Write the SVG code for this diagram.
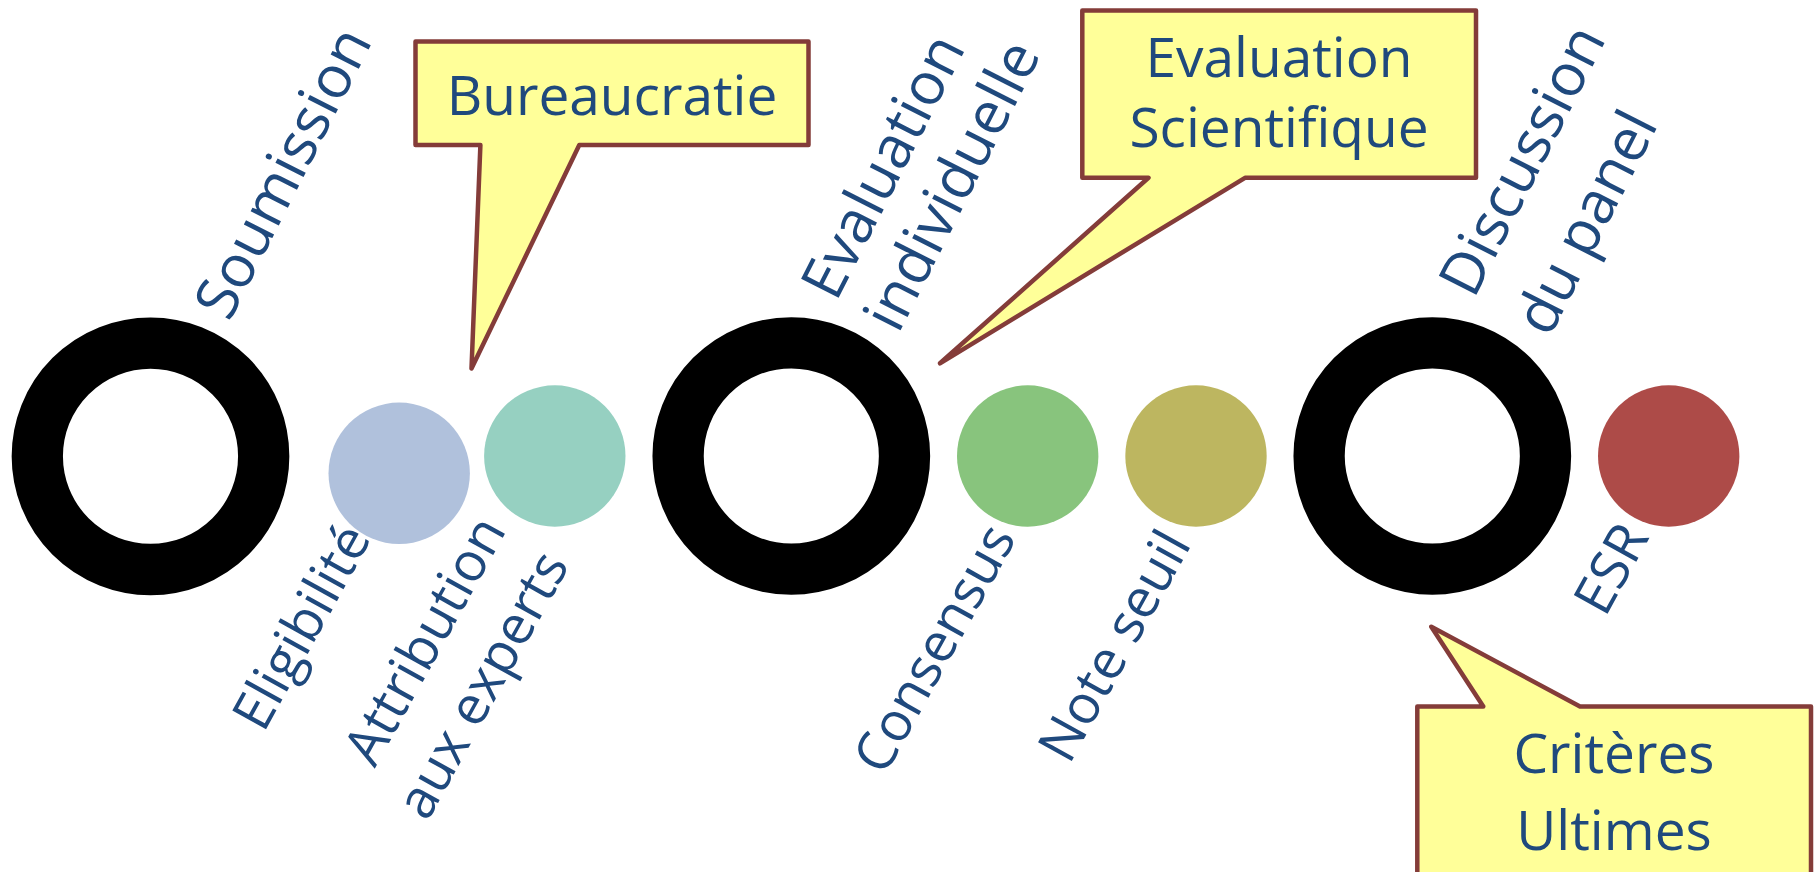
<svg xmlns="http://www.w3.org/2000/svg" width="1818" height="872" viewBox="0 0 1818 872">
<style>
.ring{fill:none;stroke:#000;stroke-width:51.3}
.lbl{font-family:"Open Sans","Noto Sans",sans-serif;font-size:59px;fill:#1F497D}
.end{text-anchor:end;font-size:54px}
.box{fill:#FFFF99;stroke:#843C39;stroke-width:4.5;stroke-linejoin:round}
.btxt{font-family:"Open Sans","Noto Sans",sans-serif;font-size:55px;fill:#1F497D;text-anchor:middle}
</style>
<rect width="1818" height="872" fill="#fff"/>
<g id="soumission">
<circle class="ring" cx="150.5" cy="456.3" r="113.2"/>
<text class="lbl" transform="translate(229.3,322.8) rotate(-63)">Soumission</text>
</g>
<g id="eligibilite">
<circle cx="399.2" cy="473.3" r="70.7" fill="#B0C1DC"/>
<text class="lbl end" transform="translate(372,538) rotate(-61)">Eligibilité</text>
</g>
<g id="attribution">
<circle cx="554.8" cy="456" r="70.7" fill="#96D0C1"/>
<text class="lbl end" transform="translate(507,530) rotate(-61)"><tspan x="0" y="0">Attribution</tspan><tspan x="0" y="72">aux experts</tspan></text>
</g>
<g id="evaluation-individuelle">
<circle class="ring" cx="791.3" cy="456" r="113.2"/>
<text class="lbl" transform="translate(836,303) rotate(-63)"><tspan x="0" y="0">Evaluation</tspan><tspan x="0" y="70">individuelle</tspan></text>
</g>
<g id="consensus">
<circle cx="1027.7" cy="456" r="70.7" fill="#88C47D"/>
<text class="lbl end" transform="translate(1017,538) rotate(-61)">Consensus</text>
</g>
<g id="note-seuil">
<circle cx="1196" cy="456" r="70.7" fill="#BDB660"/>
<text class="lbl end" transform="translate(1192,544) rotate(-61)">Note seuil</text>
</g>
<g id="discussion-panel">
<circle class="ring" cx="1432.3" cy="456" r="113.2"/>
<text class="lbl" transform="translate(1473.7,300) rotate(-63)"><tspan x="0" y="0">Discussion</tspan><tspan x="0" y="85">du panel</tspan></text>
</g>
<g id="esr">
<circle cx="1668.7" cy="456" r="70.7" fill="#AD4B48"/>
<text class="lbl end" transform="translate(1650,537) rotate(-61)">ESR</text>
</g>
<g id="callout-bureaucratie">
<path class="box" d="M415.5,41.5 H808.5 V145 H579.3 L471.5,368.5 L480.4,145 H415.5 Z"/>
<text class="btxt" x="612" y="114.8">Bureaucratie</text>
</g>
<g id="callout-evaluation-scientifique">
<path class="box" d="M1082.3,10.6 H1476 V177.8 H1245 L940,363.3 L1148.5,177.8 H1082.3 Z"/>
<text class="btxt" x="1279" y="77.3">Evaluation</text>
<text class="btxt" x="1279" y="147">Scientifique</text>
</g>
<g id="callout-criteres-ultimes">
<path class="box" d="M1417.3,706.5 H1483.3 L1431.3,626.7 L1580,706.5 H1811 V900 H1417.3 Z"/>
<text class="btxt" x="1614" y="773.3">Critères</text>
<text class="btxt" x="1614" y="850">Ultimes</text>
</g>
</svg>
